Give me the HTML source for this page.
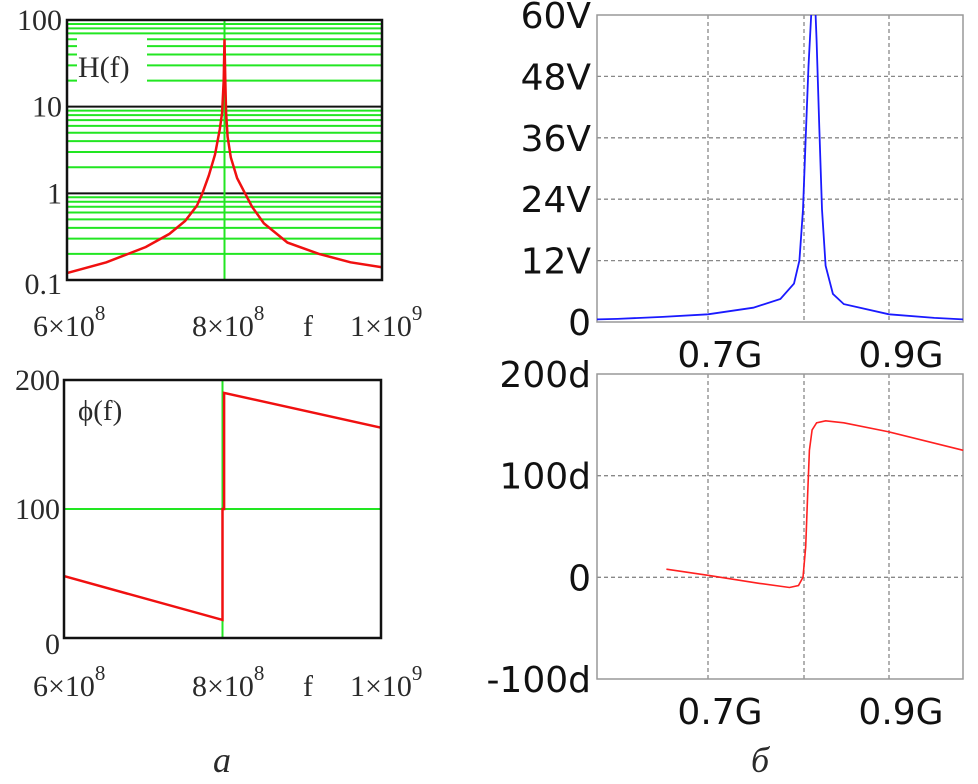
<!DOCTYPE html>
<html><head><meta charset="utf-8"><style>
body{margin:0;background:#fff;}
svg{display:block;}
.ser{font-family:"Liberation Serif",serif;fill:#2a2a2a;}
.san{font-family:"DejaVu Sans","Liberation Sans",sans-serif;fill:#111;}
</style></head><body>
<svg id="svg" width="978" height="784" xmlns="http://www.w3.org/2000/svg">
<g id="gA1"></g>
<g id="gA2"></g>
<g id="gB1"></g>
<g id="gB2"></g>
<text x="222" y="772" font-size="36" font-style="italic" class="ser" fill="#111" text-anchor="middle">а</text>
<text x="760" y="772" font-size="36" font-style="italic" class="ser" fill="#111" text-anchor="middle">б</text>
</svg>
<script>
// Mathcad magnitude H(f) (f in units of 1e8 Hz)
const magAF = [6, 6.5, 7, 7.3, 7.5, 7.65, 7.72, 7.8, 7.88, 7.94, 7.97, 7.99, 8.0, 8.01, 8.02, 8.04, 8.08, 8.16, 8.26, 8.35, 8.5, 8.8, 9.2, 9.6, 10];
const magAV = [0.12, 0.16, 0.24, 0.34, 0.48, 0.72, 1.0, 1.6, 2.8, 5.5, 8.5, 20, 60, 20, 8.5, 4.5, 2.6, 1.5, 1.0, 0.7, 0.45, 0.27, 0.2, 0.16, 0.14];
const magATicks = ["0.1", "1", "10", "100"];
// Mathcad phase
const phAF = [6, 8.0, 8.0, 8.02, 8.02, 10];
const phAV = [48, 14, 100, 100, 190, 163];
const phATicks = ["0", "100", "200"];
// Spice magnitude (GHz)
const magBF = [0.577, 0.6, 0.65, 0.7, 0.75, 0.78, 0.795, 0.801, 0.805, 0.808, 0.811, 0.814, 0.817, 0.8185, 0.82, 0.823, 0.826, 0.83, 0.838, 0.85, 0.9, 0.95, 0.982];
const magBV = [0.5, 0.6, 1.0, 1.5, 2.8, 4.5, 7.5, 12, 22, 36, 50, 60, 62, 62, 55, 38, 22, 11, 5.5, 3.5, 1.5, 0.8, 0.5];
const magBTicks = ["0", "12V", "24V", "36V", "48V", "60V"];
// Spice phase
const phBF = [0.654, 0.7, 0.757, 0.79, 0.8, 0.805, 0.808, 0.81, 0.812, 0.815, 0.82, 0.83, 0.85, 0.9, 0.982];
const phBV = [8, 2, -6, -10, -8, 0, 30, 80, 125, 145, 152, 154, 152, 143, 125];
const phBTicks = ["-100d", "0", "100d", "200d"];
const xTicksA = ["6×10", "8×10", "1×10"];
const xTicksB = ["0.7G", "0.9G"];

const NS = "http://www.w3.org/2000/svg";
function el(g, tag, attrs, txt) {
  const e = document.createElementNS(NS, tag);
  for (const k in attrs) e.setAttribute(k, attrs[k]);
  if (txt !== undefined) e.textContent = txt;
  g.appendChild(e); return e;
}
function pathD(xs, ys, sx, sy) { return xs.map((v, i) => (i ? "L" : "M") + sx(v).toFixed(1) + " " + sy(ys[i]).toFixed(1)).join(""); }

// ---- A1 log chart
(function () {
  const g = document.getElementById("gA1");
  const L = 67, R = 382, T = 20, B = 280;
  const sx = f => L + (f - 6) / 4 * (R - L);
  const sy = v => B - (Math.log10(v) + 1) / 3 * (B - T);
  for (let d = -1; d < 2; d++) for (let m = 2; m <= 9; m++) {
    const y = sy(m * Math.pow(10, d));
    const ln = el(g, "line", {x1: L, x2: R, y1: y, y2: y, stroke: "#22e622", "stroke-width": 2});
    
    
  }
  const bx = el(g, "rect", {x: 77, y: 36, width: 70, height: 52, fill: "#fff"});
  
  
  [1, 10].forEach(v => { const ln = el(g, "line", {x1: L, x2: R, y1: sy(v), y2: sy(v), stroke: "#111", "stroke-width": 2});
    
     });
  const vl = el(g, "line", {x1: sx(8), x2: sx(8), y1: T, y2: B, stroke: "#22e622", "stroke-width": 2});
  
  
  const p = el(g, "path", {d: pathD(magAF, magAV, sx, sy), fill: "none", stroke: "#f01010", "stroke-width": 2.5});
  
  
  const fr = el(g, "rect", {x: L, y: T, width: R - L, height: B - T, fill: "none", stroke: "#111", "stroke-width": 2.5});
  
  
  const lb = el(g, "text", {x: 78, y: 77, "font-size": 30, class: "ser"}, "H(f)");
  
  
  magATicks.forEach((t, i) => { const tx = el(g, "text", {x: 62, y: sy(Math.pow(10, i - 1)) + (i === 0 ? 14 : 10), "font-size": 30, "text-anchor": "end", class: "ser"}, t);
    
     });
  xAxisA(g, 336);
})();
function xAxisA(g, y) {
  [[33, "8"], [192, "8"], [350, "9"]].forEach((a, i) => {
    const t = el(g, "text", {x: a[0], y: y, "font-size": 30, class: "ser"}, xTicksA[i]);
    
    
    el(t, "tspan", {dy: -16, "font-size": 21}, a[1]);
  });
  const f = el(g, "text", {x: 303, y: y, "font-size": 30, class: "ser"}, "f");
  
  
}
// ---- A2
(function () {
  const g = document.getElementById("gA2");
  const L = 64, R = 381, T = 380, B = 638;
  const sx = f => L + (f - 6) / 4 * (R - L);
  const sy = v => B - v / 200 * (B - T);
  const h = el(g, "line", {x1: L, x2: R, y1: sy(100), y2: sy(100), stroke: "#22e622", "stroke-width": 2});
  
  
  const v = el(g, "line", {x1: sx(8), x2: sx(8), y1: T, y2: B, stroke: "#22e622", "stroke-width": 2});
  
  
  const p = el(g, "path", {d: pathD(phAF, phAV, sx, sy), fill: "none", stroke: "#f01010", "stroke-width": 2.5});
  
  
  const fr = el(g, "rect", {x: L, y: T, width: R - L, height: B - T, fill: "none", stroke: "#111", "stroke-width": 2.5});
  
  
  const lb = el(g, "text", {x: 78, y: 420, "font-size": 29, class: "ser"}, "ϕ(f)");
  
  
  phATicks.forEach((t, i) => { const tx = el(g, "text", {x: 60, y: sy(i * 100) + (i === 0 ? 16 : 10), "font-size": 30, "text-anchor": "end", class: "ser"}, t);
    
     });
  xAxisA(g, 696);
})();
// ---- B charts
function spiceFrame(g, T, B, ticks, vmin, vmax, gridVals) {
  const L = 597, R = 963;
  const sx = f => 708 + (f - 0.7) * 905;
  const sy = v => B - (v - vmin) / (vmax - vmin) * (B - T);
  [708, 804, 889].forEach(x => { const ln = el(g, "line", {x1: x, x2: x, y1: T, y2: B, stroke: "#888", "stroke-width": 1.3, "stroke-dasharray": "4 3"});
    
     });
  gridVals.forEach(v => { const ln = el(g, "line", {x1: L, x2: R, y1: sy(v), y2: sy(v), stroke: "#888", "stroke-width": 1.3, "stroke-dasharray": "4 3"});
    
     });
  const fr = el(g, "rect", {x: L, y: T, width: R - L, height: B - T, fill: "none", stroke: "#999", "stroke-width": 1.5});
  
  
  ticks.forEach((t, i) => { const v = vmin + i * (vmax - vmin) / (ticks.length - 1);
    const tx = el(g, "text", {x: 591, y: sy(v) + 13, "font-size": 36, "text-anchor": "end", class: "san"}, t);
    
     });
  [[0.7, 0], [0.9, 1]].forEach(a => { const tx = el(g, "text", {x: sx(a[0]) + 12, y: B + 45, "font-size": 36, "text-anchor": "middle", class: "san"}, xTicksB[a[1]]);
    
     });
  return [sx, sy];
}
(function () {
  const g = document.getElementById("gB1");
  const [sx, sy] = spiceFrame(g, 15, 322, magBTicks, 0, 60, [12, 24, 36, 48]);
  const cl = el(g, "clipPath", {id: "c1"}); el(cl, "rect", {x: 597, y: 15, width: 366, height: 307});
  const p = el(g, "path", {d: pathD(magBF, magBV, sx, sy), fill: "none", stroke: "#1a1aff", "stroke-width": 1.8, "clip-path": "url(#c1)"});
  
  
})();
(function () {
  const g = document.getElementById("gB2");
  const [sx, sy] = spiceFrame(g, 374, 679, phBTicks, -100, 200, [0, 100]);
  const p = el(g, "path", {d: pathD(phBF, phBV, sx, sy), fill: "none", stroke: "#ff2020", "stroke-width": 1.6});
  
  
})();
</script>
</body></html>
